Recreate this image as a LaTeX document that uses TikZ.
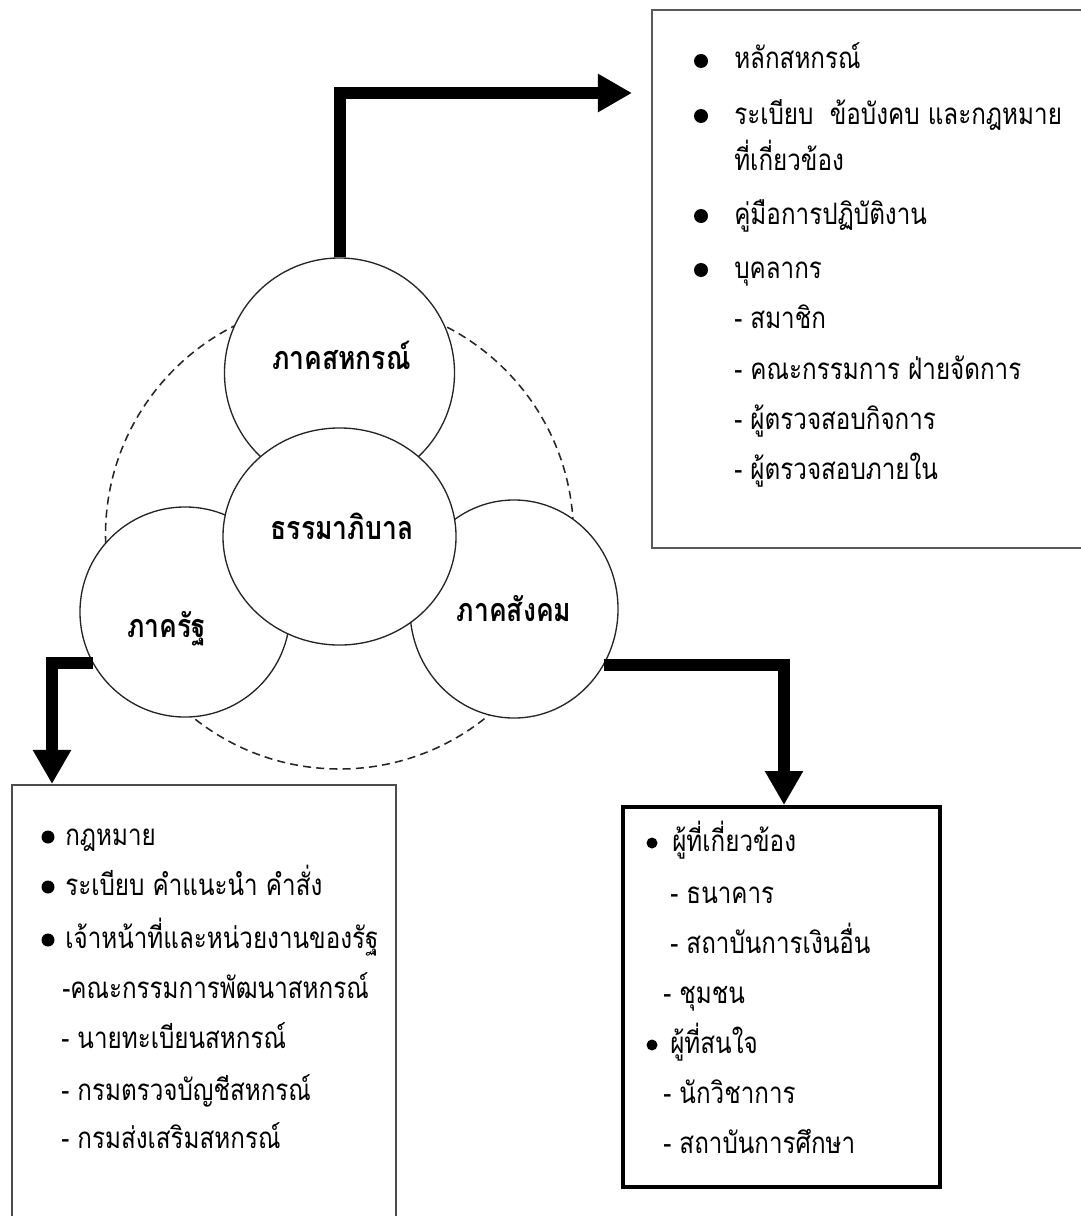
\documentclass[tikz,border=0pt]{standalone}
\usepackage{fontspec}
\newfontfamily\thaifont[Script=Thai,FakeStretch=0.82]{Loma}
\usetikzlibrary{arrows.meta,shapes.geometric}

\tikzset{
  ring/.style={draw=black!85, fill=white, line width=0.95pt, inner sep=0pt},
  sector/.style={anchor=base, inner sep=0pt, font=\thaifont\bfseries\fontsize{23}{27}\selectfont},
  item/.style={anchor=base west, inner sep=0pt, font=\thaifont\fontsize{21}{25}\selectfont},
  bigarrow/.style={line width=0.3cm, -{Triangle[length=0.85cm,width=0.9cm]}},
}

\begin{document}
\begin{tikzpicture}[x=0.025cm,y=-0.025cm]
    \useasboundingbox (0,0) rectangle (1080,1216);

    \draw[black!85, line width=1.1pt, dash pattern=on 0.2cm off 0.13cm] (339.5,535) circle (234);

    \node[ring, circle, minimum size=5.75cm] (coop) at (339.5,373) {};
    \node[ring, circle, minimum size=5.25cm] (state) at (185,612) {};
    \node[ring, ellipse, minimum width=5.2cm, minimum height=5.45cm] (social) at (514,609) {};
    \node[ring, ellipse, minimum width=5.825cm, minimum height=5.425cm] (gov) at (339.5,536.5) {};

    \node[sector] (coopt) at (341.5,369) {ภาคสหกรณ์};
    \node[sector] (govt) at (342,539) {ธรรมาภิบาล};
    \node[sector] (statet) at (167,637) {ภาครัฐ};
    \node[sector] (socialt) at (514,621) {ภาคสังคม};

    \coordinate (toptip) at (632,93);
    \coordinate (lefttip) at (52,784);
    \coordinate (righttip) at (784,805);
    \draw[bigarrow] (coop.north) |- (toptip);
    \draw[bigarrow] (state.209) -| (lefttip);
    \draw[bigarrow] (social.-32) -| (righttip);

    \draw[black!65, line width=2pt] (652,10) rectangle (1095,548);
    \draw[black!70, line width=1.4pt] (12,785) rectangle (396,1230);
    \draw[black, line width=2.4pt] (623,807) rectangle (940,1187);

    \fill (701,61) circle (7);
    \fill (701,116) circle (7);
    \fill (701,216) circle (7);
    \fill (701,270) circle (7);
    \node[item] (coop1) at (734,69) {หลักสหกรณ์};
    \node[item] (coop2) at (734,124) {ระเบียบ\ \ ข้อบังคบ และกฎหมาย};
    \node[item] (coop3) at (734,170) {ที่เกี่ยวข้อง};
    \node[item] (coop4) at (734,224) {คู่มือการปฏิบัติงาน};
    \node[item] (coop5) at (734,278) {บุคลากร};
    \node[item] (coop6) at (734,328) {- สมาชิก};
    \node[item] (coop7) at (734,379) {- คณะกรรมการ ฝ่ายจัดการ};
    \node[item] (coop8) at (734,429) {- ผู้ตรวจสอบกิจการ};
    \node[item] (coop9) at (734,479) {- ผู้ตรวจสอบภายใน};

    \fill (48,837) circle (6.5);
    \fill (48,887) circle (6.5);
    \fill (48,940) circle (6.5);
    \node[item] (state1) at (65,845) {กฎหมาย};
    \node[item] (state2) at (65,895) {ระเบียบ คำแนะนำ คำสั่ง};
    \node[item] (state3) at (65,948) {เจ้าหน้าที่และหน่วยงานของรัฐ};
    \node[item] (state4) at (62,998) {-คณะกรรมการพัฒนาสหกรณ์};
    \node[item] (state5) at (61,1048) {- นายทะเบียนสหกรณ์};
    \node[item] (state6) at (61,1100) {- กรมตรวจบัญชีสหกรณ์};
    \node[item] (state7) at (61,1148) {- กรมส่งเสริมสหกรณ์};

    \fill (652,843) circle (5.5);
    \fill (652,1045) circle (5.5);
    \node[item] (social1) at (672,851) {ผู้ที่เกี่ยวข้อง};
    \node[item] (social2) at (670,903) {- ธนาคาร};
    \node[item] (social3) at (670,953) {- สถาบันการเงินอื่น};
    \node[item] (social4) at (663,1003) {- ชุมชน};
    \node[item] (social5) at (670,1053) {ผู้ที่สนใจ};
    \node[item] (social6) at (663,1103) {- นักวิชาการ};
    \node[item] (social7) at (663,1153) {- สถาบันการศึกษา};
\end{tikzpicture}
\end{document}
